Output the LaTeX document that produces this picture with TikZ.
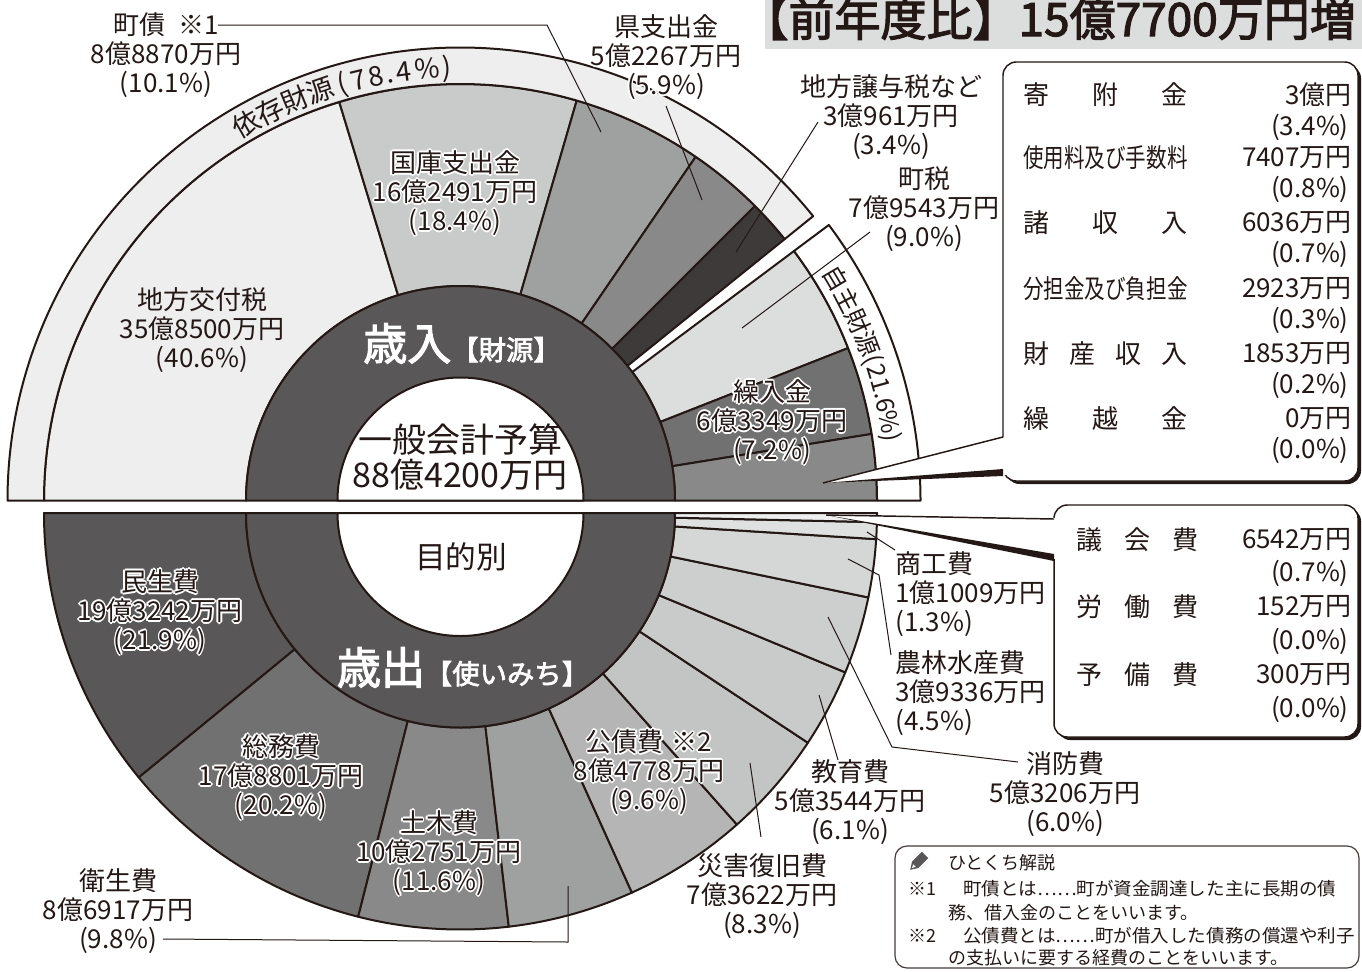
\documentclass[tikz,border=0pt]{standalone}
\usepackage{fontspec}
\setmainfont{Noto Sans CJK JP}[AutoFakeBold=2.5]
\usepackage{graphicx}
\definecolor{ink}{HTML}{231815}
\definecolor{dk}{HTML}{595757}
\definecolor{uA}{HTML}{EEEEEF}
\definecolor{uB}{HTML}{C9CACA}
\definecolor{uC}{HTML}{9FA0A0}
\definecolor{uD}{HTML}{898989}
\definecolor{uE}{HTML}{3E3A39}
\definecolor{uF}{HTML}{DCDDDD}
\definecolor{uG}{HTML}{727171}
\definecolor{uH}{HTML}{898989}
\definecolor{lA}{HTML}{595757}
\definecolor{lB}{HTML}{727171}
\definecolor{lC}{HTML}{898989}
\definecolor{lD}{HTML}{9FA0A0}
\definecolor{lE}{HTML}{B5B5B6}
\definecolor{lF}{HTML}{C3C4C4}
\definecolor{lG}{HTML}{C9CACA}
\definecolor{lH}{HTML}{CDCECE}
\definecolor{lI}{HTML}{D5D6D6}
\definecolor{lJ}{HTML}{DFE0E0}
\definecolor{lK}{HTML}{EEEEEF}
\definecolor{band}{HTML}{DCDDDD}
\newcommand\annsec[5]{\path[#1] (#2:#4) arc[start angle=#2, end angle=#3, radius=#4] -- (#3:#5) arc[start angle=#3, end angle=#2, radius=#5] -- cycle;}
\newcommand\hcp[2]{\rlap{\kern#1\raise#2\copy0}}
\newcommand\hlo[1]{{\setbox0=\hbox{#1}\leavevmode\rlap{\color{white}\hcp{1.3pt}{0pt}\hcp{-1.3pt}{0pt}\hcp{0pt}{1.3pt}\hcp{0pt}{-1.3pt}\hcp{.9pt}{.9pt}\hcp{-.9pt}{.9pt}\hcp{.9pt}{-.9pt}\hcp{-.9pt}{-.9pt}}\box0}}
\newcommand\lblfont{\fontsize{19.5pt}{21.75pt}\selectfont}
\tikzset{
 wed/.style={draw=ink,line width=1.5pt,line join=round},
 lead/.style={draw=ink,line width=0.75pt},
 lbl/.style={font=\lblfont,text=ink,align=center,inner sep=0pt},
 tb/.style={font=\lblfont,text=ink,inner sep=0pt},
 ringa/.style={font=\fontsize{20.5pt}{20.5pt}\selectfont,text=ink,inner sep=0pt,anchor=base},
 ringb/.style={font=\fontsize{18.5pt}{18.5pt}\selectfont,text=ink,inner sep=0pt,anchor=base},
 hint/.style={font=\fontsize{13.5pt}{13.5pt}\selectfont,text=ink,inner sep=0pt,anchor=base west},
 boxs/.style={rounded corners=10pt},
}
\begin{document}
\begin{tikzpicture}[x=0.75pt,y=0.75pt]
\useasboundingbox (0,0) rectangle (1362,-971);
\fill[white] (0,0) rectangle (1362,-971);
% ---------- title band
\fill[band] (765,0) rectangle (1362,-49);
\node[anchor=base east,inner sep=0pt,text=ink,font=\bfseries\fontsize{34.5pt}{34.5pt}\selectfont] (title) at (1356,-36) {【前年度比】15億7700万円増};
% ---------- upper half (revenue)
\begin{scope}[shift={(460.5,-500.5)}]
 \annsec{wed,fill=uA}{180}{106.92}{214.5}{416.5}
 \annsec{wed,fill=uB}{106.92}{73.8}{214.5}{416.5}
 \annsec{wed,fill=uC}{73.8}{55.62}{214.5}{416.5}
 \annsec{wed,fill=uD}{55.62}{45}{214.5}{416.5}
 \annsec{wed,fill=uE}{45}{38.88}{214.5}{416.5}
 \annsec{wed,fill=uA}{180}{38.88}{416.5}{453}
 \annsec{wed,fill=uF}{36.8}{21.47}{214.5}{416.5}
 \annsec{wed,fill=uG}{21.47}{9.2}{214.5}{416.5}
 \annsec{wed,fill=uH}{9.2}{0}{214.5}{416.5}
 \annsec{wed,fill=white}{36.8}{0}{416.5}{460}
 \path[wed,fill=dk] (0:214.5) arc[start angle=0,end angle=180,radius=214.5] -- cycle;
 \path[wed,fill=white] (0:123) arc[start angle=0,end angle=180,radius=123] -- cycle;
 \foreach \c/\a [count=\i] in {依/119.7,存/116.0,財/112.4,源/108.9,{(}/105.9,7/103.6,8/101.3,./99.4,4/97.5,{\%}/94.4,{)}/91.8}
   \node[ringa,rotate=\a-90] (iz\i) at (\a:423) {\c};
 \foreach \c/\a [count=\i] in {自/30.6,主/27.4,財/24.2,源/21.0,{(}/18.8,2/17.2,1/15.4,./14.0,6/12.6,{\%}/10.3,{)}/8.4}
   \node[ringb,rotate=\a-90] (jz\i) at (\a:427) {\c};
\end{scope}
% ---------- lower half (expenditure)
\begin{scope}[shift={(460.5,-513)}]
 \annsec{wed,fill=lA}{180}{219.42}{214.5}{416.5}
 \annsec{wed,fill=lB}{219.42}{255.78}{214.5}{416.5}
 \annsec{wed,fill=lC}{255.78}{276.66}{214.5}{416.5}
 \annsec{wed,fill=lD}{276.66}{294.3}{214.5}{416.5}
 \annsec{wed,fill=lE}{294.3}{311.58}{214.5}{416.5}
 \annsec{wed,fill=lF}{311.58}{326.52}{214.5}{416.5}
 \annsec{wed,fill=lG}{326.52}{337.5}{214.5}{416.5}
 \annsec{wed,fill=lH}{337.5}{348.3}{214.5}{416.5}
 \annsec{wed,fill=lI}{348.3}{356.4}{214.5}{416.5}
 \annsec{wed,fill=lJ}{356.4}{358.74}{214.5}{416.5}
 \annsec{wed,fill=lK}{358.74}{360}{214.5}{416.5}
 \path[wed,fill=dk] (180:214.5) arc[start angle=180,end angle=360,radius=214.5] -- cycle;
 \path[wed,fill=white] (180:123) arc[start angle=180,end angle=360,radius=123] -- cycle;
\end{scope}
% ---------- leader lines
\coordinate (zs0) at (218,-25); \coordinate (zs1) at (547,-25); \coordinate (zs2) at (601,-132);
\draw[lead] (zs0) -- (zs1) -- (zs2);
\coordinate (ks0) at (666,-106); \coordinate (ks1) at (702,-200);
\draw[lead] (ks0) -- (ks1);
\coordinate (jy0) at (818,-122); \coordinate (jy1) at (736,-252);
\draw[lead] (jy0) -- (jy1);
\coordinate (cz0) at (870,-232); \coordinate (cz1) at (742,-328);
\draw[lead] (cz0) -- (cz1);
\coordinate (es0) at (163,-939); \coordinate (es1) at (568,-942); \coordinate (es2) at (568,-886);
\draw[lead] (es0) -- (es1) -- (es2);
\coordinate (sg0) at (761,-837); \coordinate (sg1) at (750,-763);
\draw[lead] (sg0) -- (sg1);
\coordinate (ky0) at (838,-760); \coordinate (ky1) at (819,-695);
\draw[lead] (ky0) -- (ky1);
\coordinate (sb0) at (1018,-762); \coordinate (sb1) at (892,-747); \coordinate (sb2) at (828,-617);
\draw[lead] (sb0) -- (sb1) -- (sb2);
\coordinate (nr0) at (891,-655); \coordinate (nr1) at (879,-575); \coordinate (nr2) at (848,-559);
\draw[lead] (nr0) -- (nr1) -- (nr2);
\coordinate (sk0) at (895,-550); \coordinate (sk1) at (867,-532);
\draw[lead] (sk0) -- (sk1);
% ---------- labels (upper)
\node[lbl] (zs) at (166,-55) {町債\hspace{0.5em}※1\\8億8870万円\\(10.1\%)};
\node[lbl] (ks) at (666,-57) {\hlo{県支出金}\\\hlo{5億2267万円}\\\hlo{(5.9\%)}};
\node[lbl] (jy) at (891,-117) {地方譲与税など\\3億961万円\\(3.4\%)};
\node[lbl] (cz) at (924,-209) {町税\\7億9543万円\\(9.0\%)};
\node[lbl] (kk) at (455,-193) {\hlo{国庫支出金}\\\hlo{16億2491万円}\\\hlo{(18.4\%)}};
\node[lbl] (ck) at (202,-330) {地方交付税\\35億8500万円\\(40.6\%)};
\node[lbl] (kr) at (772,-422) {\hlo{繰入金}\\\hlo{6億3349万円}\\\hlo{(7.2\%)}};
\node[lbl,font=\fontsize{25.5pt}{26.25pt}\selectfont] (ip) at (460,-457) {一般会計予算\\88億4200万円};
\node[inner sep=0pt,anchor=base,text=white] (sn) at (462,-360) {{\bfseries\fontsize{33pt}{33pt}\selectfont 歳入}{\bfseries\fontsize{20.5pt}{20.5pt}\selectfont 【財源】}};
% ---------- labels (lower)
\node[lbl,font=\fontsize{23pt}{23pt}\selectfont] (mk) at (461,-557) {目的別};
\node[inner sep=0pt,anchor=base,text=white] (ss) at (463,-684) {{\bfseries\fontsize{33pt}{33pt}\selectfont 歳出}{\bfseries\fontsize{20.5pt}{20.5pt}\selectfont 【使いみち】}};
\node[lbl] (ms) at (160,-612) {\hlo{民生費}\\\hlo{19億3242万円}\\\hlo{(21.9\%)}};
\node[lbl] (sm) at (281,-777) {\hlo{総務費}\\\hlo{17億8801万円}\\\hlo{(20.2\%)}};
\node[lbl] (db) at (439,-853) {\hlo{土木費}\\\hlo{10億2751万円}\\\hlo{(11.6\%)}};
\node[lbl] (es) at (118,-911) {衛生費\\8億6917万円\\(9.8\%)};
\node[lbl] (kh) at (649,-772) {\hlo{公債費\hspace{0.3em}※2}\\\hlo{8億4778万円}\\\hlo{(9.6\%)}};
\node[lbl] (sg) at (762,-896) {災害復旧費\\7億3622万円\\(8.3\%)};
\node[lbl] (ky) at (850,-802) {教育費\\5億3544万円\\(6.1\%)};
\node[lbl] (sb) at (1065,-794) {消防費\\5億3206万円\\(6.0\%)};
\node[lbl,align=left,anchor=west] (nr) at (895,-693) {農林水産費\\3億9336万円\\(4.5\%)};
\node[lbl,align=left,anchor=west] (sk) at (895,-594) {商工費\\1億1009万円\\(1.3\%)};
% ---------- table box 1
\fill[ink,boxs] (1006,-65) rectangle (1361,-484);
\path[fill=white,draw=ink,line width=1.1pt,boxs] (1003,-62) rectangle (1358,-481);
\coordinate (c1t) at (823,-483); \coordinate (c1a) at (1003,-437); \coordinate (c1b) at (1003,-472);
\fill[white] (1009,-436) -- (c1t) -- (1009,-475) -- cycle;
\draw[ink,line width=1.1pt] (c1a) -- (c1t);
\fill[ink] (1003,-469) -- (c1t) -- (1003,-476) -- cycle;
\node[tb,anchor=west] (t1a) at (1023,-95) {\hbox to 123pt{寄\hfill 附\hfill 金}};
\node[tb,anchor=east] (t1b) at (1352,-95) {3億円};
\node[tb,anchor=east] (t1c) at (1349,-127) {(3.4\%)};
\node[tb,anchor=west] (t2a) at (1023,-158) {\scalebox{0.79}[1]{使用料及び手数料}};
\node[tb,anchor=east] (t2b) at (1352,-158) {7407万円};
\node[tb,anchor=east] (t2c) at (1349,-189) {(0.8\%)};
\node[tb,anchor=west] (t3a) at (1023,-223) {\hbox to 123pt{諸\hfill 収\hfill 入}};
\node[tb,anchor=east] (t3b) at (1352,-223) {6036万円};
\node[tb,anchor=east] (t3c) at (1349,-254) {(0.7\%)};
\node[tb,anchor=west] (t4a) at (1023,-289) {\scalebox{0.79}[1]{分担金及び負担金}};
\node[tb,anchor=east] (t4b) at (1352,-289) {2923万円};
\node[tb,anchor=east] (t4c) at (1349,-320) {(0.3\%)};
\node[tb,anchor=west] (t5a) at (1023,-354) {\hbox to 123pt{財\hfill 産\hfill 収\hfill 入}};
\node[tb,anchor=east] (t5b) at (1352,-354) {1853万円};
\node[tb,anchor=east] (t5c) at (1349,-385) {(0.2\%)};
\node[tb,anchor=west] (t6a) at (1023,-419) {\hbox to 123pt{繰\hfill 越\hfill 金}};
\node[tb,anchor=east] (t6b) at (1352,-419) {0万円};
\node[tb,anchor=east] (t6c) at (1349,-450) {(0.0\%)};
% ---------- table box 2
\fill[ink,boxs] (1057,-508) rectangle (1361,-740);
\path[fill=white,draw=ink,line width=1.1pt,boxs] (1054,-505) rectangle (1358,-737);
\coordinate (c2t) at (826,-515); \coordinate (c2a) at (1054,-519); \coordinate (c2b) at (1054,-557);
\fill[white] (1060,-518) -- (c2t) -- (1060,-560) -- cycle;
\draw[ink,line width=1.1pt] (c2a) -- (c2t);
\fill[ink] (1054,-554) -- (c2t) -- (1054,-561) -- cycle;
\node[tb,anchor=west] (u1a) at (1076,-540) {\hbox to 91.5pt{議\hfill 会\hfill 費}};
\node[tb,anchor=east] (u1b) at (1352,-540) {6542万円};
\node[tb,anchor=east] (u1c) at (1349,-573) {(0.7\%)};
\node[tb,anchor=west] (u2a) at (1076,-607) {\hbox to 91.5pt{労\hfill 働\hfill 費}};
\node[tb,anchor=east] (u2b) at (1352,-607) {152万円};
\node[tb,anchor=east] (u2c) at (1349,-641) {(0.0\%)};
\node[tb,anchor=west] (u3a) at (1076,-675) {\hbox to 91.5pt{予\hfill 備\hfill 費}};
\node[tb,anchor=east] (u3b) at (1352,-675) {300万円};
\node[tb,anchor=east] (u3c) at (1349,-709) {(0.0\%)};
% ---------- hint box
\path[fill=white,draw=ink!85,line width=0.9pt,rounded corners=9pt] (895,-846) rectangle (1359,-968);
\begin{scope}[shift={(918,-862)},rotate=-45]
 \fill[dk] (-4.5,-4) -- (-4.5,10) -- (4.5,10) -- (4.5,-4) -- (0,-11) -- cycle;
 \fill[white] (-1.8,-5) -- (0,-8.5) -- (1.8,-5) -- cycle;
\end{scope}
\node[hint] (h0) at (948,-869) {ひとくち解説};
\node[hint] (h1) at (908,-895) {※1\hspace{1.5em}\scalebox{1.03}[1]{町債とは……町が資金調達した主に長期の債}};
\node[hint] (h2) at (948,-919) {務、借入金のことをいいます。};
\node[hint] (h3) at (908,-942) {※2\hspace{1.5em}\scalebox{1.03}[1]{公債費とは……町が借入した債務の償還や利子}};
\node[hint] (h4) at (948,-964) {の支払いに要する経費のことをいいます。};
\end{tikzpicture}
\end{document}
